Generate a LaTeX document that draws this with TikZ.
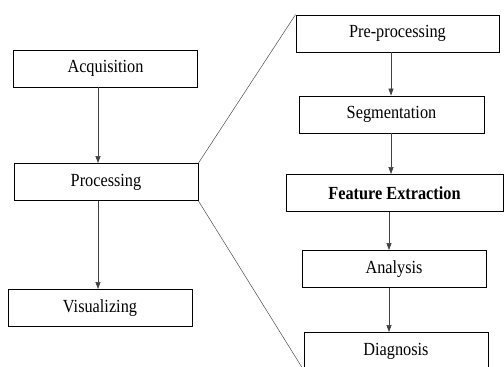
\documentclass[tikz,border=0pt]{standalone}
\usepackage{fontspec}
\setmainfont[FakeStretch=0.88]{Liberation Serif}
\usetikzlibrary{arrows.meta}

\tikzset{
  stage/.style={draw=black, line width=0.9pt, inner sep=0pt,
    minimum width=184pt, minimum height=37pt,
    font=\fontsize{18.5}{21}\selectfont},
  flow/.style={draw=black!75, line width=0.6pt},
  zoom/.style={draw=black!70, line width=0.5pt}
}

\begin{document}
\begin{tikzpicture}[x=1pt,y=-1pt,>={Triangle[width=5pt,length=7pt]}]
\clip (0,0) rectangle (504,367);
% left column
\node[stage] (acq) at (105.5,68.5) {Acquisition};
\node[stage] (proc) at (106,182) {Processing};
\node[stage] (vis) at (100,308) {Visualizing};
% right column (detail of processing)
\node[stage, minimum width=203pt] (pre) at (397.5,33.5) {Pre-processing};
\node[stage, minimum width=185pt] (seg) at (391.5,114.5) {Segmentation};
\node[stage, minimum width=217pt, font=\fontsize{18.5}{21}\selectfont\bfseries] (feat) at (394.5,193) {Feature Extraction};
\node[stage] (ana) at (394,269) {Analysis};
\node[stage] (diag) at (396,351) {Diagnosis};

% arrows
\draw[flow,->] (98,0 |- acq.south) -- (98,0 |- proc.north);
\draw[flow,->] (98,0 |- proc.south) -- (98,0 |- vis.north);
\draw[flow,->] (391,0 |- pre.south) -- (391,0 |- seg.north);
\draw[flow,->] (391,0 |- seg.south) -- (391,0 |- feat.north);
\draw[flow,->] (389,0 |- feat.south) -- (389,0 |- ana.north);
\draw[flow,->] (389,0 |- ana.south) -- (389,0 |- diag.north);

% zoom lines
\draw[zoom] (proc.north east) -- (pre.north west);
\draw[zoom] (proc.south east) -- (diag.south west);
\end{tikzpicture}
\end{document}
